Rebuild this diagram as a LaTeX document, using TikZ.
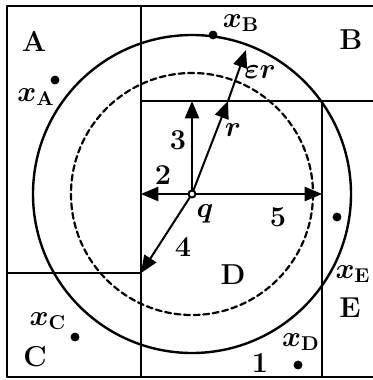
\documentclass[tikz,border=0pt]{standalone}
\usepackage{amsmath,amssymb}
\usepackage{bm}
\usetikzlibrary{arrows}

\tikzset{
  lab/.style={font=\Large\bfseries},
  mlab/.style={font=\Large},
}

\begin{document}
\begin{tikzpicture}[line cap=round,line join=round,>=triangle 45,x=0.5pt,y=-0.5pt]
		\useasboundingbox (0,0) rectangle (373,380);
		% cellules
		\begin{scope}[line width=1.2pt]
		\draw (373,6)--(7,6)--(7,377)--(373,377);
		\draw (141,6)--(141,377);
		\draw (141,101)--(373,101);
		\draw (322,101)--(322,377);
		\draw (7,273)--(141,273);
		\end{scope}
		% cercles
		\coordinate (q) at (192,194);
		\draw[line width=1.2pt] (q) circle (159);
		\draw[line width=1.1pt,dash pattern=on 3pt off 1.8pt] (q) circle (121);
		% fleches
		\coordinate (t3) at (192,101);
		\coordinate (t2) at (141,194);
		\coordinate (t5) at (322,194);
		\coordinate (t4) at (141,273);
		\coordinate (p) at (228,101);
		\coordinate (pe) at (246,50);
		\draw[->,line width=1pt] (q)--(t3);
		\draw[->,line width=1pt] (q)--(t2);
		\draw[->,line width=1pt] (q)--(t5);
		\draw[->,line width=1pt] (q)--(t4);
		\draw[->,line width=1pt] (q)--(p);
		\draw[->,line width=1pt] (p)--(pe);
		\draw[line width=1pt,fill=white] (q) circle (3.5);
		% points
		\filldraw (55,80) circle (4);
		\filldraw (213,35) circle (4);
		\filldraw (337,217) circle (4);
		\filldraw (75,337) circle (4);
		\filldraw (298,365) circle (4);
		% etiquettes
		\node[lab] (lA) at (34,41) {A};
		\node[lab] (lB) at (351,40) {B};
		\node[lab] (lC) at (35,357) {C};
		\node[lab] (lD) at (233,275) {D};
		\node[lab] (lE) at (350,308) {E};
		\node[mlab] (xA) at (36,97) {$\bm{x}_{\mathbf{A}}$};
		\node[mlab] (xB) at (241,23) {$\bm{x}_{\mathbf{B}}$};
		\node[mlab] (xC) at (48,321) {$\bm{x}_{\mathbf{C}}$};
		\node[mlab] (xD) at (301,342) {$\bm{x}_{\mathbf{D}}$};
		\node[mlab,anchor=east,inner sep=1pt] (xE) at (373,274) {$\bm{x}_{\mathbf{E}}$};
		\node[lab] (n1) at (260,363) {1};
		\node[lab] (n2) at (163,175) {2};
		\node[lab] (n3) at (178,140) {3};
		\node[lab] (n4) at (183,247) {4};
		\node[lab] (n5) at (278,217) {5};
		\node[mlab] (lq) at (205,214) {$\bm{q}$};
		\node[mlab] (lr) at (233,130) {$\bm{r}$};
		\node[mlab] (ler) at (260,72) {$\bm{\varepsilon r}$};
\end{tikzpicture}
\end{document}
